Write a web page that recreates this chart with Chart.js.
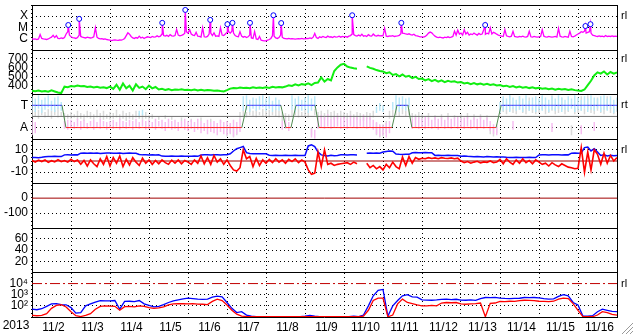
<!DOCTYPE html>
<html>
<head>
<meta charset="utf-8">
<title>Solar wind overview 2013-11</title>
<script src="https://cdn.jsdelivr.net/npm/chart.js@4.4.1/dist/chart.umd.min.js"></script>
<style>
  html, body { margin: 0; padding: 0; background: #fff; }
  canvas { display: block; }
</style>
</head>
<body>
<canvas id="plot" width="633" height="334"></canvas>
<script>
const N = null;

// x axis: days from 11/2 00:00
const dayLabels = ['11/2','11/3','11/4','11/5','11/6','11/7','11/8','11/9','11/10','11/11','11/12','11/13','11/14','11/15','11/16'];
const yearLabel = '2013';

// GOES x-ray flux, hourly, in C-class units (1 = 1e-6 W/m2)
const xrayC = [
  0.9,0.85,0.9,0.8,0.9,2.2,1.0,0.9,0.85,0.8,0.9,1.1,1.3,1.9,1.2,1.8,1.0,0.95,1.1,1.0,1.2,2.5,4.0,2.0,
  1.4,1.2,1.1,1.0,1.2,2.0,1.5,1.3,1.2,1.1,1.3,1.2,1.1,1.2,1.4,9.0,1.3,1.0,0.9,0.95,0.85,0.9,0.8,0.75,
  0.7,0.65,0.7,0.75,0.7,0.68,0.72,0.7,0.8,1.0,1.8,3.2,2.4,1.5,1.1,1.0,1.2,1.05,1.6,1.1,1.3,1.0,1.2,1.4,
  1.3,1.2,1.5,1.3,1.4,1.7,1.4,1.6,2.5,1.8,1.6,1.9,1.5,2.2,1.7,1.6,1.8,6.4,2.0,1.7,1.9,2.2,3.0,4.0,
  3.0,6.0,2.5,2.0,1.8,3.5,1.6,1.5,1.3,9.0,1.4,1.3,1.5,2.5,3.0,1.8,3.2,1.6,1.7,1.5,9.0,2.0,1.8,2.5,
  3.5,4.0,3.0,4.5,3.0,1.8,1.5,1.4,4.0,1.6,1.3,1.5,1.2,1.4,2.0,1.1,1.0,4.0,0.9,0.8,1.5,0.7,0.65,0.6,
  0.6,0.7,0.8,1.0,1.8,1.6,1.1,1.0,1.2,2.0,1.3,1.0,0.95,0.9,1.0,0.9,0.95,0.9,0.85,0.9,0.95,0.9,1.0,0.9,
  0.9,1.0,0.95,1.1,1.0,1.3,2.8,1.2,1.0,1.4,1.2,1.5,1.3,1.2,1.6,1.3,1.4,1.2,1.5,1.3,1.4,1.6,1.3,1.5,
  1.4,1.5,1.3,1.6,1.8,2.5,2.2,1.8,1.6,2.0,1.7,2.4,1.6,1.8,1.5,2.2,1.7,1.6,2.5,1.8,1.6,1.9,1.7,1.8,
  1.7,8.0,1.6,1.5,1.7,1.6,1.8,1.5,1.6,1.7,1.9,2.6,3.0,2.8,2.5,2.3,2.6,2.2,2.0,2.4,1.8,1.7,1.5,1.4,
  1.4,1.3,1.5,2.0,3.0,3.7,3.2,2.2,1.6,1.3,1.2,1.3,1.2,1.1,1.3,1.2,1.4,1.2,1.3,1.5,4.5,2.0,5.5,2.5,
  3.0,2.0,6.0,2.5,3.5,2.0,2.5,2.2,3.0,2.4,2.0,2.8,2.2,2.5,6.0,2.4,3.0,2.6,9.0,2.5,3.5,3.0,2.4,2.0,
  1.8,1.6,1.5,6.0,1.7,1.5,1.4,1.6,4.4,1.5,1.4,1.3,1.5,1.4,1.6,1.4,1.3,1.5,4.4,1.4,1.3,1.5,1.4,1.3,
  1.4,1.5,6.0,1.6,1.4,1.3,1.5,1.4,1.3,1.4,1.5,1.3,8.0,1.6,1.4,1.3,1.5,1.4,1.3,4.4,1.5,1.4,1.6,2.0,
  2.5,3.0,4.0,3.5,4.5,3.0,3.5,4.0,3.0,2.0,1.8,1.6,1.5,1.7,1.5,1.6,1.4,1.8,1.5,1.6,1.5,1.7,1.5,1.6,1.5
];
// flare peaks (day, C-class units)
const flareT = [0.93,1.21,3.34,3.93,4.57,5.01,5.14,5.59,6.19,6.39,8.21,9.47,11.62,14.19,14.32];
const flareV = [16,57,25,360,46,19,25,25,120,24,120,25,16,13,19];

// solar wind speed, 2-hourly (km/s)
const speed = [
  338,332,340,330,336,328,342,330,318,312,384,378,
  390,385,396,388,392,380,386,375,382,372,378,368,
  385,360,405,350,420,365,395,340,410,370,385,355,
  395,365,380,352,360,348,356,345,352,348,355,346,
  350,345,352,342,348,340,346,344,338,342,335,330,
  345,362,370,365,375,368,372,366,378,370,374,368,
  376,370,382,374,380,376,385,400,392,410,398,412,
  405,420,402,425,430,488,440,470,455,560,600,630,
  640,610,598,590,585,N,N,612,595,585,570,560,
  555,535,545,515,525,500,520,495,505,480,495,470,
  475,455,468,445,460,440,455,435,450,438,445,430,
  435,420,428,412,425,410,418,405,415,402,410,398,
  402,388,395,380,390,375,385,372,380,368,378,365,
  372,360,366,355,362,350,360,352,358,348,355,345,
  340,336,352,400,450,510,545,530,555,520,548,530,545
];

// IMF sector: phi samples, 2-hourly, [low, high] in panel units (A = 1, T = 3)
const taCyan = [
  [2.6,3.8],[2.4,3.6],[2.7,3.9],[2.3,3.5],[2.6,3.7],[2.8,3.9],[2.5,3.4],[2.4,3.7],[2.7,3.8],[2.5,3.3],N,N,
  N,N,N,N,N,N,N,N,N,N,N,N,
  N,N,N,N,N,N,N,N,N,[2.0,2.5],[2.1,2.6],N,
  N,N,N,N,N,N,N,N,N,N,N,N,
  N,N,N,N,N,N,N,N,N,N,N,N,
  N,N,N,N,N,[2.5,3.8],[2.6,3.9],[2.4,3.5],[2.7,3.7],[2.5,3.6],[2.6,3.8],[2.8,3.9],
  [2.5,3.6],[2.7,3.8],[2.4,3.4],[2.6,3.7],[2.5,3.5],N,N,N,[2.6,3.9],[2.4,3.6],[2.7,3.8],[2.5,3.5],
  [2.6,3.7],[2.3,3.9],[2.5,3.6],[2.8,3.8],N,N,N,N,N,N,N,N,
  N,N,N,N,N,N,N,N,N,N,[2.3,2.9],[2.5,3.2],
  [2.4,3.0],N,N,[2.6,3.3],[2.6,3.9],[2.4,3.7],[2.7,3.8],[2.5,3.6],[2.8,3.7],N,N,N,
  N,N,N,N,N,N,N,N,N,N,N,N,
  N,N,N,N,N,N,N,N,N,N,N,N,
  [2.3,3.3],[2.5,3.8],[2.6,3.6],[2.4,3.9],[2.7,3.7],[2.5,3.5],[2.6,3.8],[2.4,3.6],[2.7,3.9],[2.5,3.4],[2.6,3.7],[2.4,3.8],
  [2.6,3.6],[2.5,3.9],[2.7,3.7],[2.4,3.5],[2.6,3.8],[2.5,3.6],[2.7,3.9],[2.4,3.7],[2.6,3.5],[2.5,3.8],[2.7,3.6],[2.4,3.9],
  [2.6,3.7],[2.5,3.5],[2.7,3.8],[2.4,3.6],[2.6,3.9],[2.5,3.7],[2.7,3.6],[2.4,3.8],[2.6,3.9],[2.5,3.6],[2.7,3.8],[2.3,3.5],[2.5,3.7]
];
const taPink = [
  [0.3,1.8],[0.5,1.5],N,N,N,N,N,N,N,N,[0.9,1.6],[0.8,1.7],
  [1.0,1.7],[0.9,1.5],[1.1,1.8],[0.8,1.6],[1.0,1.7],[0.9,1.4],[1.1,1.6],[0.8,1.7],[1.0,1.5],[0.9,1.8],[1.1,1.6],[0.8,1.5],
  [1.0,1.6],[0.9,1.7],[1.1,1.5],[0.8,1.8],[1.0,1.6],[0.9,1.5],[1.1,1.7],[0.8,1.6],[1.0,1.8],[0.9,1.5],[1.1,1.7],[0.8,1.6],
  [0.9,1.7],[1.0,1.5],[0.8,1.8],[1.1,1.6],[0.9,1.7],[0.7,1.5],[1.0,1.8],[0.8,1.6],[0.9,1.7],[0.7,1.5],[1.0,1.6],[0.8,1.8],
  [0.7,1.6],[0.9,1.7],[0.6,1.5],[0.8,1.8],[0.5,1.6],[0.7,1.4],[0.4,1.7],[0.6,1.5],[0.5,1.6],[0.3,1.4],[0.6,1.7],[0.4,1.5],
  [0.3,1.6],[0.5,1.4],[0.2,1.7],[0.4,1.5],[0.6,1.8],N,N,N,N,N,N,N,
  N,N,N,N,N,[0.8,1.6],[0.9,1.7],[0.7,1.5],N,N,N,N,
  N,N,[0.1,0.9],[0.0,0.8],[0.9,1.9],[1.0,2.1],[0.9,2.0],[1.1,2.2],[0.9,1.8],[1.0,2.0],[1.1,2.1],[0.9,1.9],
  [1.0,2.0],[0.9,1.8],[1.1,2.1],[1.0,1.9],[0.9,2.0],[1.1,1.8],[1.0,2.1],[0.9,1.9],[1.0,2.0],[0.8,1.7],[0.4,1.5],[0.2,1.3],
  [0.3,1.2],[0.1,1.4],[0.5,1.6],N,N,N,N,N,N,[0.9,1.8],[1.0,2.0],[0.9,1.9],
  [1.0,1.8],[0.9,2.0],[1.1,1.9],[0.9,1.7],[1.0,2.0],[0.8,1.8],[1.1,1.9],[0.9,1.7],[1.0,2.0],[0.9,1.8],[1.1,1.9],[0.9,2.0],
  [1.0,1.8],[0.9,1.9],[1.1,2.0],[0.9,1.7],[1.0,1.9],[0.8,1.8],[1.0,2.0],[0.9,1.7],[1.1,1.9],[0.7,1.6],[0.4,1.3],[0.3,1.1],
  N,N,N,N,[0.8,1.6],N,N,N,N,N,N,N,
  N,N,N,N,[0.6,1.4],N,N,N,N,N,N,N,
  N,[0.4,1.2],N,N,N,[0.7,1.5],N,N,N,N,N,N,N
];
const taGray = [
  [1.9,2.7],[2.0,2.5],[1.8,2.6],[2.1,2.8],[1.9,2.4],[2.0,2.7],[1.8,2.5],[2.1,2.6],[1.9,2.8],[2.0,2.4],[1.7,2.3],[1.8,2.2],
  [1.8,2.4],[1.9,2.2],[1.7,2.5],[1.8,2.3],[1.6,2.2],[1.9,2.5],[1.8,2.4],[1.7,2.2],[1.9,2.6],[1.8,2.3],[1.7,2.5],[1.8,2.2],
  [1.7,2.4],[1.8,2.3],[1.9,2.6],[1.7,2.2],[1.8,2.5],[1.6,2.3],[1.8,2.4],[1.7,2.2],[1.9,2.5],[1.8,2.3],[1.7,2.2],[1.8,2.4],
  [1.7,2.1],[1.8,2.2],N,[1.7,2.0],N,[1.8,2.1],N,[1.7,2.0],N,N,[1.6,1.9],N,
  N,[1.5,1.8],N,N,[1.6,1.9],N,N,[1.5,1.8],N,N,[1.4,1.7],N,
  [0.2,1.0],[0.4,1.2],[0.1,0.9],[0.3,1.1],[1.8,2.4],[2.0,2.6],[1.9,2.4],[2.1,2.7],[2.0,2.5],[1.9,2.6],[2.1,2.4],[2.0,2.7],
  [2.0,2.5],[1.9,2.6],[2.1,2.4],[2.0,2.7],[1.9,2.5],[1.6,2.4],[1.7,2.3],[1.6,2.2],[2.0,2.6],[2.1,2.5],[1.9,2.7],[2.0,2.4],
  [2.0,2.6],[1.9,2.5],[0.3,1.0],[2.1,2.7],[1.7,2.4],[1.8,2.5],[1.7,2.3],[1.9,2.6],[1.8,2.4],[1.7,2.5],[1.8,2.3],[1.9,2.5],
  [1.8,2.4],[1.7,2.3],[1.9,2.5],[1.8,2.2],[1.7,2.4],[1.8,2.3],[1.6,2.2],[1.8,2.4],[1.7,2.3],[1.9,2.5],[0.3,1.4],[0.1,1.2],
  [0.2,1.3],[0.5,1.6],[1.8,2.5],[2.0,2.6],[2.1,2.8],[2.0,2.6],[2.2,2.8],[2.0,2.5],[2.1,2.7],[1.8,2.3],[1.7,2.2],[1.8,2.4],
  [1.7,2.2],N,[1.8,2.3],N,[1.7,2.1],N,[1.8,2.2],N,[1.7,2.3],N,[1.8,2.1],N,
  [1.7,2.2],N,[1.8,2.3],N,[1.7,2.2],N,[1.8,2.2],N,[1.7,2.1],[0.4,1.2],[0.2,1.0],[0.5,1.3],
  [2.2,2.8],[2.4,3.6],[2.2,2.7],[2.5,3.9],[2.3,2.8],[2.2,3.0],[2.6,3.8],[2.3,2.8],[2.2,2.9],[2.5,3.7],[2.3,2.8],[2.2,3.0],
  [2.3,2.8],[2.6,3.8],[2.2,2.9],[2.3,2.7],[2.5,3.9],[2.2,2.8],[2.3,3.0],[2.6,3.7],[2.2,2.8],[2.4,2.9],[0.3,1.2],[2.2,2.8],
  [2.3,2.9],[2.5,3.8],[2.2,2.7],[2.6,3.9],[2.3,2.8],[2.2,3.0],[2.5,3.7],[2.3,2.8],[2.2,2.9],[2.6,3.8],[2.3,2.8],[2.2,2.7],[2.4,2.9]
];
// sector boundaries (day, side)
const sectorT = [0,0.77,0.87,5.38,5.51,6.38,6.51,6.64,6.77,7.26,7.36,9.23,9.36,9.64,9.74,11.90,12.03,15];
const sectorSide = ['T','T','A','A','T','T','A','A','T','T','A','A','T','T','A','A','T','T'];
const sideLevel = { T: 3, A: 1 };

// IMF Bt and Bz, 2-hourly (nT)
const bt = [
  3.1,3.2,3.0,3.3,3.9,4.1,4.0,4.2,4.1,4.0,5.5,5.6,
  5.4,5.6,5.5,7.0,7.1,6.9,7.2,7.0,7.1,6.8,7.0,7.2,
  7.1,6.9,7.0,7.2,6.8,7.0,7.1,7.0,6.9,5.8,5.5,5.6,
  5.4,5.5,5.3,5.6,4.4,4.3,4.2,4.4,4.3,4.2,4.4,4.3,
  4.2,4.3,4.4,4.2,5.4,5.5,5.6,5.4,5.5,5.6,5.4,5.5,
  5.6,6.5,9.0,11.0,12.0,13.0,7.5,6.8,6.5,6.6,6.4,6.5,
  6.4,5.2,5.0,5.1,4.9,5.0,5.2,4.9,5.0,5.1,5.0,4.9,
  5.0,13.5,14.5,13.0,8.0,5.5,5.0,4.5,5.2,4.8,5.0,5.5,
  5.5,5.4,5.6,5.5,5.4,N,N,7.0,7.2,6.9,7.1,7.0,
  8.0,8.5,9.0,8.8,6.2,6.0,5.9,6.1,6.0,7.4,7.6,7.5,
  7.5,7.6,7.4,7.5,5.0,5.1,4.9,5.0,5.1,4.9,5.0,5.0,
  4.3,4.5,4.2,4.0,3.8,4.1,3.9,3.7,4.0,3.8,3.6,3.9,
  3.7,3.5,3.3,3.2,3.1,3.3,3.2,3.1,3.2,3.3,3.2,3.1,
  5.4,5.5,5.6,5.4,5.5,5.6,5.5,5.4,5.6,5.5,7.0,7.2,
  7.0,7.1,12.0,12.5,9.0,11.0,8.0,5.0,5.5,4.6,5.2,4.8,5.0
];
const bz = [
  0.5,-1.0,0.8,-0.5,1.0,-1.2,0.3,-0.8,1.2,-0.6,0.4,-1.0,
  1.5,-0.5,0.8,-3.0,0.5,-4.5,1.0,-2.5,-5.0,2.0,-3.0,4.0,
  -4.5,3.0,-2.0,4.5,-5.0,1.5,-3.5,3.0,-1.0,-4.0,2.5,-2.0,
  1.0,-3.0,0.5,-2.5,1.0,-1.5,-3.0,0.8,-2.0,1.0,-2.5,0.5,
  -1.0,-3.0,1.0,-2.0,4.5,-2.5,3.0,-3.0,5.0,-1.0,2.0,-3.0,
  1.0,-4.0,-8.0,-9.0,-6.0,10.0,2.0,4.0,-5.0,2.5,-4.0,1.0,
  -2.0,1.5,-1.5,2.0,-1.0,1.0,-2.0,1.5,-0.5,2.0,-1.5,1.0,
  -1.0,-8.0,-12.0,-11.0,8.0,-5.0,10.0,-3.0,-2.0,-4.0,-3.0,-2.5,
  -2.0,-1.5,-3.0,-1.0,-2.5,N,N,-2.0,-6.0,-4.0,-7.0,-5.0,
  -8.0,-3.0,-6.0,-1.0,-5.0,-7.0,3.5,-4.0,4.0,-2.0,3.0,1.5,
  2.5,2.0,3.0,2.2,2.8,2.0,3.0,2.5,2.2,2.8,2.0,2.5,
  0.0,-1.5,-0.5,-2.0,-1.0,-0.3,-1.8,-0.8,-1.2,0.0,-1.5,-1.0,
  1.5,-2.5,2.0,-1.0,-3.0,1.0,-2.0,2.0,-1.5,0.5,-2.5,1.0,
  -1.0,-3.0,-2.0,-4.5,-1.5,-3.5,-5.0,-2.5,-4.0,-5.5,-6.0,-7.0,
  -6.5,12.0,-10.0,8.0,-8.0,10.0,6.0,-3.0,7.0,-2.0,5.0,0.0,3.0
];

// particle flux, 3-hourly
const fluxBlue = [
  50,45,55,90,150,160,130,125,
  70,22,25,100,150,220,300,280,
  280,300,50,250,260,240,300,150,
  110,80,90,130,200,280,350,420,
  500,450,400,380,400,600,740,650,
  200,60,25,30,15,12,11,11,
  11,10.5,11,11,10.5,11,10.5,11,
  12,14,12,11,10.5,11,11,10.5,
  11,11,12,11,15,100,800,2500,
  3000,12,100,300,800,1000,650,600,
  350,330,320,340,380,400,370,390,
  330,320,350,310,450,560,550,580,
  500,460,450,470,480,560,540,560,
  520,450,400,420,700,1000,800,200,
  120,12,12,13,30,50,40,32,30
];
const fluxRed = [
  14,13,14,20,60,110,125,80,
  30,13,11,14,20,50,90,100,
  95,90,40,85,90,80,100,90,
  70,60,65,80,120,150,160,155,
  150,160,145,140,130,250,400,300,
  120,40,18,12,11,10.5,10.5,10.5,
  10.5,10.5,10.5,10.5,10.5,10.5,10.5,10.5,
  10.5,10.5,10.5,10.5,10.5,10.5,10.5,10.5,
  10.5,10.5,10.5,10.5,12,40,300,500,
  500,10.5,15,150,400,200,160,120,
  100,100,110,100,180,200,190,200,
  150,140,150,160,180,10.5,170,180,
  250,240,260,250,300,320,310,300,
  260,250,240,260,400,500,450,160,
  40,11,10.5,10.5,15,30,25,17,15
];
const fluxAlert = 1e4;

// tick values / labels per panel
const xrayTicks = [100, 10, 1], xrayText = ['X', 'M', 'C'];
const speedTicks = [700, 600, 500, 400];
const sideTicks = [3, 1], sideText = ['T', 'A'];
const bTicks = [10, 0, -10];
const dstTicks = [0, -100];
const kTicks = [60, 40, 20];
const fluxTicks = [1e4, 1e3, 1e2], fluxText = ['10\u2074', '10\u00b3', '10\u00b2'];

function timeSeries(values, perDay) {
  return values.map((v, i) => ({ x: i / perDay, y: v }));
}
function barSeries(pairs, perDay) {
  return pairs.map((p, i) => p && { x: i / perDay, y: p }).filter(Boolean);
}
function hline(y) {
  return [{ x: 0, y: y }, { x: dayLabels.length, y: y }];
}

const xrayPts = timeSeries(xrayC, 24)
  .concat(flareT.map((t, i) => ({ x: t, y: flareV[i] })))
  .sort((a, b) => a.x - b.x);

const panelIds = ['yX', 'yV', 'yTA', 'yB', 'yD', 'yK', 'yP'];

function panelAxis(id, extra, tickVals, tickText, gridVals) {
  const w = panelIds.length - panelIds.indexOf(id);
  return Object.assign({
    type: 'linear',
    position: 'left',
    stack: 'panels',
    stackWeight: 1,
    weight: w,
    afterFit: s => { s.width = 32; s.paddingTop = 0; s.paddingBottom = 0; },
    afterBuildTicks: s => { s.ticks = tickVals.map(v => ({ value: v })); },
    ticks: {
      autoSkip: false,
      padding: 4,
      color: '#000',
      callback: v => tickText ? tickText[tickVals.indexOf(v)] : String(v)
    },
    grid: {
      drawTicks: false,
      lineWidth: 1,
      color: c => (c.tick && gridVals.includes(c.tick.value)) ? '#000' : 'rgba(0,0,0,0)'
    },
    border: { color: '#000', width: 1, dash: [1, 3] }
  }, extra);
}

const sectorPts = sectorT.map((t, i) => ({ x: t, y: sideLevel[sectorSide[i]] }));

const framePlugin = {
  id: 'frame',
  afterDatasetsDraw(chart) {
    const ctx = chart.ctx, a = chart.chartArea, s = chart.scales;
    ctx.save();
    ctx.strokeStyle = '#000';
    ctx.lineWidth = 1;
    ctx.beginPath();
    panelIds.forEach(id => {
      const y = Math.round(s[id].top) + 0.5;
      ctx.moveTo(a.left, y);
      ctx.lineTo(a.right + 1, y);
    });
    const r = Math.round(a.right) + 0.5;
    ctx.moveTo(r, a.top);
    ctx.lineTo(r, a.bottom);
    ctx.stroke();

    ctx.fillStyle = '#000';
    ctx.font = "11px 'Liberation Sans', Arial, sans-serif";
    ctx.textBaseline = 'middle';
    ctx.textAlign = 'left';
    [['yX', 100, 'rl'], ['yV', 700, 'rl'], ['yTA', 3, 'rt'], ['yB', 10, 'rl'], ['yP', fluxAlert, 'rl']]
      .forEach(([id, v, txt]) => ctx.fillText(txt, a.right + 4, s[id].getPixelForValue(v)));

    ctx.font = "12px 'Liberation Sans', Arial, sans-serif";
    ctx.textAlign = 'center';
    ctx.textBaseline = 'top';
    ctx.fillText(yearLabel, a.left / 2, s.x.top + 3);

    // window resize grip
    ctx.strokeStyle = '#9a9a9a';
    const W = chart.width, H = chart.height;
    [3, 7, 11].forEach(k => {
      ctx.beginPath();
      ctx.moveTo(W - k, H);
      ctx.lineTo(W, H - k);
      ctx.stroke();
    });
    ctx.restore();
  }
};

Chart.defaults.font.family = "'Liberation Sans', Arial, sans-serif";
Chart.defaults.font.size = 12;
Chart.defaults.color = '#000';

const taBar = { type: 'bar', yAxisID: 'yTA', grouped: false, barPercentage: 0.45, categoryPercentage: 1 };

new Chart(document.getElementById('plot'), {
  type: 'line',
  data: {
    datasets: [
      // x-ray
      { data: flareT.map((t, i) => ({ x: t, y: flareV[i] })), yAxisID: 'yX', showLine: false, order: 0,
        pointRadius: 2.5, pointBorderWidth: 1, pointBorderColor: '#0000ff', pointBackgroundColor: '#ffffff' },
      { data: xrayPts, yAxisID: 'yX', borderColor: '#ff00ff', borderWidth: 1.3, order: 1 },
      // speed
      { data: timeSeries(speed, 12), yAxisID: 'yV', borderColor: '#11ee11', borderWidth: 2, spanGaps: false, order: 1 },
      // sector
      { data: sectorPts, yAxisID: 'yTA', borderWidth: 1, order: 0,
        segment: { borderColor: c => c.p0.parsed.y !== c.p1.parsed.y ? '#4f8a4f'
          : (c.p0.parsed.y === sideLevel.T ? '#4848ff' : '#ff2424') } },
      { data: hline(2), yAxisID: 'yTA', borderColor: '#707070', borderWidth: 1, order: 2 },
      Object.assign({ data: barSeries(taCyan, 12), backgroundColor: '#b8e8f8', order: 3 }, taBar),
      Object.assign({ data: barSeries(taPink, 12), backgroundColor: '#f6bcf0', order: 4 }, taBar),
      Object.assign({ data: barSeries(taGray, 12), backgroundColor: '#dadada', order: 5 }, taBar),
      // IMF
      { data: timeSeries(bz, 12), yAxisID: 'yB', borderColor: '#ff0000', borderWidth: 1.6, spanGaps: false, order: 1 },
      { data: timeSeries(bt, 12), yAxisID: 'yB', borderColor: '#0a0aff', borderWidth: 1.5, spanGaps: false, order: 2 },
      { data: hline(0), yAxisID: 'yB', borderColor: '#a00000', borderWidth: 1, order: 3 },
      // Dst
      { data: hline(0), yAxisID: 'yD', borderColor: '#a00000', borderWidth: 1, order: 1 },
      // particles
      { data: timeSeries(fluxRed, 8), yAxisID: 'yP', borderColor: '#ff0000', borderWidth: 1.3, order: 1 },
      { data: timeSeries(fluxBlue, 8), yAxisID: 'yP', borderColor: '#0000ff', borderWidth: 1.3, order: 2 },
      { data: hline(fluxAlert), yAxisID: 'yP', borderColor: '#c00000', borderWidth: 1, borderDash: [10, 3, 2, 3], order: 3 }
    ]
  },
  options: {
    responsive: false,
    animation: false,
    devicePixelRatio: 1,
    events: [],
    layout: { padding: { top: 2, right: 16, left: 0, bottom: 0 } },
    elements: { point: { radius: 0 }, line: { tension: 0 } },
    plugins: { legend: { display: false }, tooltip: { enabled: false } },
    scales: {
      x: {
        type: 'linear',
        min: 0,
        max: dayLabels.length,
        offset: false,
        afterFit: s => { s.height = 17; s.paddingLeft = 0; s.paddingRight = 0; },
        afterBuildTicks: s => {
          const t = [];
          dayLabels.forEach((d, i) => { t.push({ value: i }); t.push({ value: i + 0.55 }); });
          t.push({ value: dayLabels.length });
          s.ticks = t;
        },
        ticks: {
          autoSkip: false, maxRotation: 0, padding: 3, color: '#000',
          callback: v => Number.isInteger(v) ? '' : dayLabels[Math.floor(v)]
        },
        grid: {
          offset: false, drawTicks: false, lineWidth: 1,
          color: c => (c.tick && Number.isInteger(c.tick.value)) ? '#000' : 'rgba(0,0,0,0)'
        },
        border: { color: '#000', width: 1, dash: [1, 3] }
      },
      yX: panelAxis('yX', { type: 'logarithmic', min: 0.1, max: 1000 }, xrayTicks, xrayText, [100, 10]),
      yV: panelAxis('yV', { min: 300, max: 800 }, speedTicks, null, [700, 500]),
      yTA: panelAxis('yTA', { min: 0, max: 4 }, sideTicks, sideText, [3, 1]),
      yB: panelAxis('yB', { min: -20, max: 20 }, bTicks, null, [10, -10]),
      yD: panelAxis('yD', { min: -200, max: 100 }, dstTicks, null, [-100]),
      yK: panelAxis('yK', { min: 0, max: 80 }, kTicks, null, [60, 40, 20]),
      yP: panelAxis('yP', { type: 'logarithmic', min: 10, max: 1e5 }, fluxTicks, fluxText, [1e3, 1e2])
    }
  },
  plugins: [framePlugin]
});
</script>
</body>
</html>
